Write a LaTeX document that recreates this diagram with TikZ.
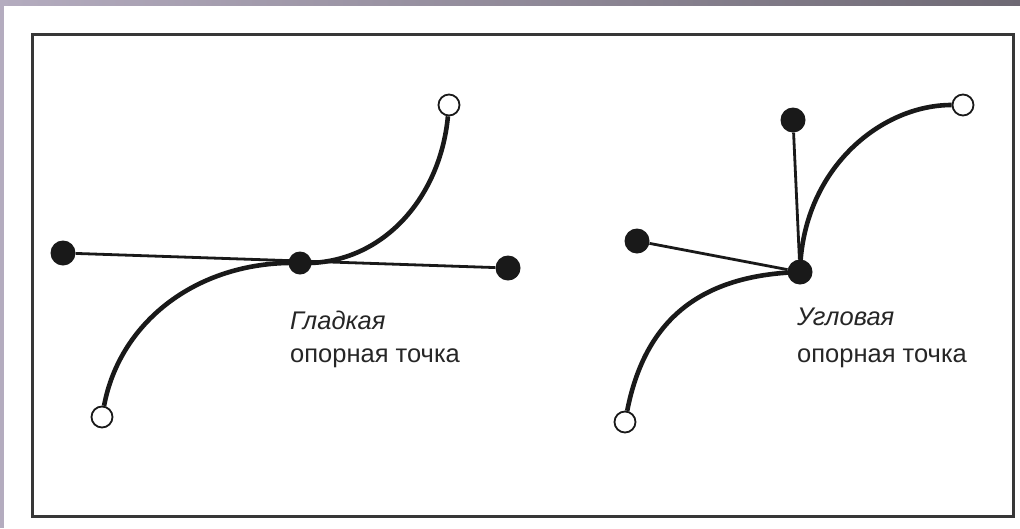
\documentclass[tikz,border=0pt]{standalone}
\usepackage{fontspec}
\setmainfont{Liberation Sans}
\usetikzlibrary{positioning}
\definecolor{slidebg}{RGB}{180,172,191}
\definecolor{slidedark}{RGB}{110,105,116}
\definecolor{frameclr}{RGB}{55,55,55}

\begin{document}
\begin{tikzpicture}[x=1pt, y=-1pt,
  anchorpt/.style={circle, fill=black!90, inner sep=0pt, minimum size=25pt},
  endpt/.style={circle, draw=black!90, fill=white, line width=1.8pt, inner sep=0pt, minimum size=21pt},
  handle/.style={line width=2.8pt, black!90},
  seg/.style={line width=4.6pt, black!90},
  lbl/.style={font=\fontsize{25.5}{30}\selectfont, text=black!85, inner sep=0pt, anchor=base west},
  ilbl/.style={lbl, font=\fontsize{25.5}{30}\selectfont\itshape}]
% slide background and frame
\useasboundingbox (0,0) rectangle (1020,528);
\fill[white] (0,0) rectangle (1020,528);
\shade[left color=slidebg, right color=slidedark] (0,0) rectangle (1020,5);
\fill[slidebg] (0,0) rectangle (4,528);
\draw[frameclr, line width=3pt] (32,34) rectangle (1013,516);

% smooth point
\node[anchorpt] (h1) at (63,253) {};
\node[anchorpt, minimum size=23pt] (s) at (300,263) {};
\node[anchorpt] (h2) at (508,268) {};
\node[endpt] (e1) at (102,417) {};
\node[endpt] (e2) at (449,105) {};
\draw[handle] (h1) -- (h2);
\draw[seg] (e1) .. controls (120,320) and (200,260) .. (s.center)
  .. controls (380,266) and (440,200) .. (e2);
\node[ilbl] (t1) at (290,329) {Гладкая};
\node[lbl] (t2) at (290,362) {опорная точка};

% corner point
\node[anchorpt] (c) at (800,272) {};
\node[anchorpt] (h3) at (793,120) {};
\node[anchorpt] (h4) at (637,241) {};
\node[endpt] (e3) at (625,422) {};
\node[endpt] (e4) at (963,105) {};
\draw[handle] (c) -- (h3);
\draw[handle] (c) -- (h4);
\draw[seg] (e3) .. controls (645,320) and (700,275) .. (c.center)
  .. controls (802,170) and (880,105) .. (e4);
\node[ilbl] (t3) at (797,325) {Угловая};
\node[lbl] (t4) at (797,362) {опорная точка};
\end{tikzpicture}
\end{document}
